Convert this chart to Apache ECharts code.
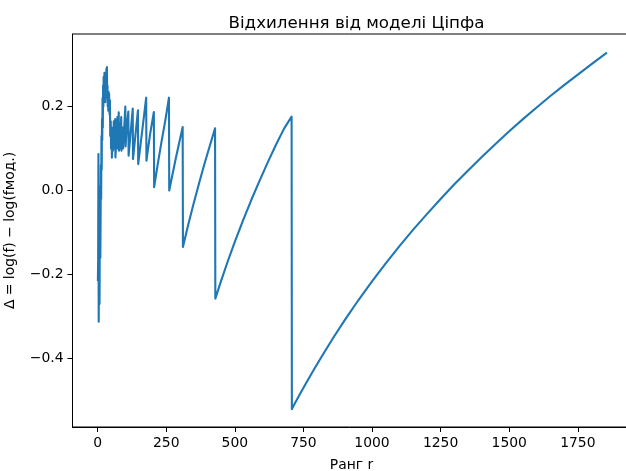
<!DOCTYPE html>
<html>
<head>
<meta charset="utf-8">
<script src="https://cdn.jsdelivr.net/npm/echarts@6/dist/echarts.min.js"></script>
<style>
  html, body { margin: 0; padding: 0; background: #fff; }
  #chart { width: 626px; height: 471px; }
</style>
</head>
<body>
<div id="chart"></div>
<script>
// rank r and deviation Δ
const ranks = [
  1, 2, 3, 4, 5, 6, 7, 8, 9, 10, 11, 12, 13, 14, 15, 16, 17, 18, 19, 20,
  21, 22, 23, 24, 25, 26, 27, 28, 29, 30, 31, 32, 33, 34, 35, 36, 37, 38, 39, 40,
  41, 42, 43, 44, 45, 46, 48, 49, 51, 52, 55, 56, 59, 60, 64, 65, 68, 69, 72, 73,
  77, 78, 80, 81, 86, 87, 92, 93, 101, 102, 106, 112, 113, 128, 129, 147, 148, 177, 178, 191,
  205, 206, 218, 232, 246, 260, 261, 285, 310, 311, 330, 349, 370, 390, 410, 428,
  429, 450, 475, 500, 530, 560, 590, 620, 650, 680, 707,
  708, 720, 740, 760, 790, 820, 860, 900, 950, 1000, 1050, 1100, 1150, 1200,
  1250, 1300, 1350, 1400, 1450, 1500, 1550, 1600, 1650, 1700, 1750, 1800, 1856
]
const deltas = [
  -0.215, -0.165, 0.087, -0.312, -0.20, -0.04, -0.27, -0.10, 0.01, -0.16, -0.06, 0.06, -0.02, 0.13, 0.05, 0.17, 0.12, 0.22, 0.15, 0.25,
  0.20, 0.27, 0.22, 0.26, 0.28, 0.23, 0.27, 0.21, 0.25, 0.28, 0.24, 0.29, 0.26, 0.294, 0.22, 0.25, 0.20, 0.23, 0.19, 0.235,
  0.20, 0.23, 0.19, 0.18, 0.215, 0.13, 0.165, 0.10, 0.15, 0.078, 0.14, 0.095, 0.165, 0.10, 0.17, 0.079, 0.12, 0.10, 0.175, 0.10,
  0.186, 0.095, 0.14, 0.10, 0.175, 0.095, 0.15, 0.10, 0.20, 0.105, 0.15, 0.188, 0.083, 0.195, 0.075, 0.191, 0.063, 0.221, 0.071, 0.133,
  0.187, 0.008, 0.058, 0.113, 0.164, 0.221, 0.0, 0.077, 0.151, -0.1345, -0.082, -0.033, 0.018, 0.065, 0.109, 0.148,
  -0.257, -0.215, -0.167, -0.122, -0.071, -0.0225, 0.023, 0.067, 0.109, 0.148, 0.176,
  -0.52, -0.505, -0.481, -0.458, -0.424, -0.391, -0.349, -0.309, -0.261, -0.216, -0.173, -0.132, -0.093, -0.056,
  -0.020, 0.015, 0.048, 0.080, 0.111, 0.141, 0.170, 0.1975, 0.225, 0.251, 0.276, 0.301, 0.328
]
const xTicks = [0, 250, 500, 750, 1000, 1250, 1500, 1750]
const yTicks = [-0.4, -0.2, 0.0, 0.2]

const chart = echarts.init(document.getElementById('chart'), null, { renderer: 'canvas' })

const font = 'DejaVu Sans, sans-serif'
const minus = v => (v < 0 ? '\u2212' : '') + Math.abs(v).toFixed(1)

const option = {
  animation: false,
  backgroundColor: '#fff',
  title: {
    text: 'Відхилення від моделі Ціпфа',
    left: 351.5,
    textAlign: 'center',
    top: 10,
    textStyle: { fontFamily: font, fontSize: 16.7, fontWeight: 'normal', color: '#000' }
  },
  grid: {
    left: 72.5,
    top: 34,
    width: 558,
    height: 393,
    outerBoundsMode: 'none',
    containLabel: false,
    show: true,
    borderColor: '#000',
    borderWidth: 1
  },
  xAxis: {
    type: 'value',
    min: -91.5,
    max: 1942,
    name: 'Ранг r',
    nameLocation: 'middle',
    nameGap: 31,
    nameTextStyle: { fontFamily: font, fontSize: 13.9, color: '#000' },
    axisLine: { show: true, onZero: false, lineStyle: { color: '#000', width: 1 } },
    axisTick: { show: true, inside: false, length: 5, customValues: xTicks, lineStyle: { color: '#000', width: 1 } },
    axisLabel: { customValues: xTicks, margin: 9, formatter: v => String(v), fontFamily: font, fontSize: 13.9, color: '#000' },
    splitLine: { show: false }
  },
  yAxis: {
    type: 'value',
    min: -0.5625,
    max: 0.3725,
    name: 'Δ = log(f) − log(fмод.)',
    nameLocation: 'middle',
    nameRotate: 90,
    nameGap: 55,
    nameMoveOverlap: false,
    nameTextStyle: { fontFamily: font, fontSize: 13.9, color: '#000' },
    axisLine: { show: true, onZero: false, lineStyle: { color: '#000', width: 1 } },
    axisTick: { show: true, inside: false, length: 5, customValues: yTicks, lineStyle: { color: '#000', width: 1 } },
    axisLabel: { customValues: yTicks, margin: 9, formatter: minus, fontFamily: font, fontSize: 13.9, color: '#000' },
    splitLine: { show: false }
  },
  series: [
    {
      type: 'line',
      data: ranks.map((r, i) => [r, deltas[i]]),
      showSymbol: false,
      symbol: 'none',
      lineStyle: { color: '#1f77b4', width: 2.1, join: 'round' },
      clip: true
    }
  ]
}

chart.setOption(option)
</script>
</body>
</html>
